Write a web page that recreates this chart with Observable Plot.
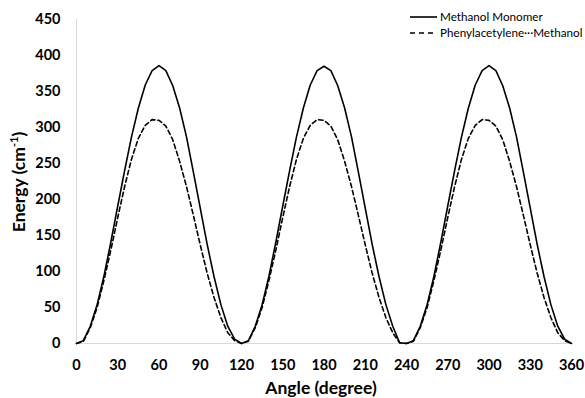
<!DOCTYPE html>
<html>
<head>
<meta charset="utf-8">
<script src="https://cdn.jsdelivr.net/npm/d3@7"></script>
<script src="https://cdn.jsdelivr.net/npm/@observablehq/plot@0.6"></script>
<style>
  html, body { margin: 0; padding: 0; background: #fff; }
  #chart { width: 585px; height: 398px; }
</style>
</head>
<body>
<div id="chart"></div>
<script>
// ---- data ----
const angles = [
  0, 5, 10, 15, 20, 25, 30, 35, 40, 45, 50, 55, 60, 65, 70, 75, 80, 85, 90, 95, 100, 105, 110, 115, 120,
  125, 130, 135, 140, 145, 150, 155, 160, 165, 170, 175, 180, 185, 190, 195, 200, 205, 210, 215, 220, 225, 230, 235, 240,
  245, 250, 255, 260, 265, 270, 275, 280, 285, 290, 295, 300, 305, 310, 315, 320, 325, 330, 335, 340, 345, 350, 355, 360
];
const monomer = [
  0, 4, 24, 54, 94, 141, 191, 240, 287, 327, 359, 379, 386, 379, 358, 327, 287, 238, 188, 138, 93, 54, 24, 6, 0,
  4, 24, 54, 94, 141, 191, 240, 287, 327, 359, 379, 385, 379, 358, 327, 287, 238, 188, 138, 93, 54, 24, 1, 0,
  4, 24, 54, 94, 141, 191, 240, 287, 327, 359, 379, 386, 379, 358, 327, 287, 238, 188, 138, 93, 54, 24, 6, 0
];
const complex = [
  0, 3, 22, 50, 88, 130, 175, 218, 256, 285, 303, 311, 310, 302, 283, 253, 218, 178, 137, 98, 64, 36, 15, 4, 0,
  3, 22, 50, 88, 130, 175, 218, 256, 285, 303, 311, 310, 302, 283, 253, 218, 178, 137, 98, 64, 36, 15, 1, 0,
  3, 22, 50, 88, 130, 175, 218, 256, 285, 303, 311, 310, 302, 283, 253, 218, 178, 137, 98, 64, 36, 15, 4, 0
];
const seriesNames = ["Methanol Monomer", "Phenylacetylene\u00B7\u00B7\u00B7Methanol"];
const xTicks = [0, 30, 60, 90, 120, 150, 180, 210, 240, 270, 300, 330, 360];
const yTicks = [0, 50, 100, 150, 200, 250, 300, 350, 400, 450];

const monoData = angles.map((a, i) => ({angle: a, energy: monomer[i]}));
const compData = angles.map((a, i) => ({angle: a, energy: complex[i]}));

const font = "Lato, 'Open Sans', sans-serif";
const dash = "4.5,3";

const svg = Plot.plot({
  width: 585,
  height: 398,
  marginLeft: 76,
  marginRight: 14,
  marginTop: 19,
  marginBottom: 55,
  style: {fontFamily: font, background: "#fff", color: "#000"},
  x: {domain: [0, 360]},
  y: {domain: [0, 450]},
  marks: [
    Plot.ruleX([0], {stroke: "#d9d9d9", strokeWidth: 1}),
    Plot.ruleY([0], {stroke: "#d9d9d9", strokeWidth: 1}),
    Plot.axisX({ticks: xTicks, tickSize: 0, tickPadding: 16, fontSize: 14.5, fontWeight: "bold", label: null, fill: "#000"}),
    Plot.axisY({ticks: yTicks, tickSize: 0, tickPadding: 16, fontSize: 14.5, fontWeight: "bold", label: null, fill: "#000"}),
    Plot.line(monoData, {x: "angle", y: "energy", stroke: "#000", strokeWidth: 1.6}),
    Plot.line(compData, {x: "angle", y: "energy", stroke: "#000", strokeWidth: 1.6, strokeDasharray: dash})
  ]
});

const s = d3.select(svg);
// axis titles
s.append("text")
  .attr("x", 321).attr("y", 394)
  .attr("text-anchor", "middle")
  .attr("font-family", font).attr("font-size", 17.5).attr("font-weight", "bold")
  .attr("fill", "#000")
  .text("Angle (degree)");

const yt = s.append("text")
  .attr("transform", "translate(25,182) rotate(-90)")
  .attr("text-anchor", "middle")
  .attr("font-family", font).attr("font-size", 17.5).attr("font-weight", "bold")
  .attr("fill", "#000");
yt.append("tspan").text("Energy (cm");
yt.append("tspan").attr("font-size", 11).attr("dy", -7).text("-1");
yt.append("tspan").attr("dy", 7).text(")");

// legend
const lg = s.append("g").attr("font-family", font).attr("font-size", 11.7).attr("fill", "#000")
  .attr("text-anchor", "start");
seriesNames.forEach((name, i) => {
  const y = 17 + i * 16;
  lg.append("line")
    .attr("x1", 410).attr("x2", 437).attr("y1", y).attr("y2", y)
    .attr("stroke", "#000").attr("stroke-width", 1.6)
    .attr("stroke-dasharray", i === 1 ? "5,4" : null);
  lg.append("text").attr("x", 440).attr("y", y).attr("dy", "0.35em")
    .attr("text-anchor", "start").text(name);
});

document.getElementById("chart").appendChild(svg);
</script>
</body>
</html>
